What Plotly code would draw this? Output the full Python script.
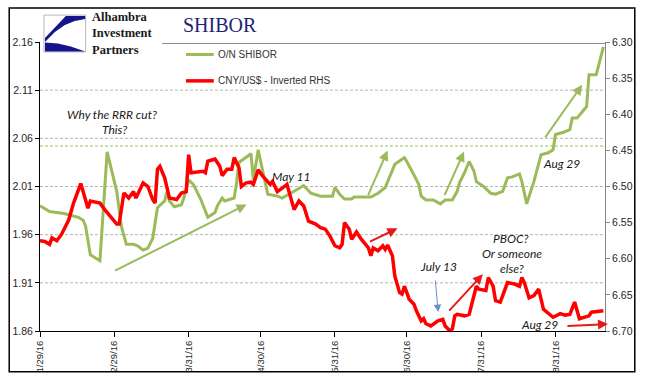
import plotly.graph_objects as go

# ---------------- data ----------------
shibor_dates = ["2016-01-29","2016-02-02","2016-02-05","2016-02-08","2016-02-14","2016-02-16","2016-02-17","2016-02-19","2016-02-23","2016-02-26",
                "2016-03-01","2016-03-03","2016-03-05","2016-03-08","2016-03-10","2016-03-12","2016-03-14","2016-03-16","2016-03-18","2016-03-21",
                "2016-03-22","2016-03-23","2016-03-25","2016-03-28","2016-03-29","2016-03-31","2016-04-02","2016-04-05","2016-04-08","2016-04-11",
                "2016-04-12","2016-04-14","2016-04-15","2016-04-19","2016-04-20","2016-04-21","2016-04-26","2016-04-27","2016-04-29","2016-05-01",
                "2016-05-03","2016-05-07","2016-05-09","2016-05-14","2016-05-18","2016-05-21","2016-05-25","2016-05-30","2016-05-31","2016-06-02",
                "2016-06-04","2016-06-07","2016-06-08","2016-06-15","2016-06-18","2016-06-21","2016-06-23","2016-06-25","2016-06-29","2016-06-30",
                "2016-07-03","2016-07-05","2016-07-06","2016-07-08","2016-07-11","2016-07-14","2016-07-16","2016-07-19","2016-07-21","2016-07-22",
                "2016-07-24","2016-07-26","2016-07-28","2016-07-29","2016-08-01","2016-08-04","2016-08-06","2016-08-09","2016-08-11","2016-08-13",
                "2016-08-16","2016-08-17","2016-08-19","2016-08-22","2016-08-25","2016-08-28","2016-08-30","2016-08-31","2016-09-03","2016-09-06",
                "2016-09-07","2016-09-09","2016-09-13","2016-09-14","2016-09-17","2016-09-20"]
shibor_values = [1.990,1.984,1.983,1.982,1.978,1.975,1.969,1.939,1.933,2.046,
                 2.005,1.968,1.950,1.950,1.948,1.944,1.946,1.956,1.988,1.995,
                 2.005,1.995,1.989,1.991,1.998,2.017,2.012,1.997,1.978,1.983,
                 1.990,1.998,1.995,1.998,2.014,2.035,2.044,2.017,2.048,2.024,
                 2.002,2.000,1.998,2.005,2.011,2.003,2.000,2.000,2.009,2.002,
                 1.997,1.997,1.999,1.999,2.003,2.009,2.021,2.033,2.040,2.036,
                 2.022,2.012,2.000,1.996,1.996,1.992,1.996,1.996,2.005,2.014,
                 2.024,2.036,2.026,2.015,2.010,2.003,2.002,2.005,2.019,2.020,
                 2.023,2.015,1.992,2.015,2.043,2.045,2.048,2.064,2.066,2.069,
                 2.081,2.081,2.093,2.126,2.126,2.155]

cny_dates = ["2016-01-29","2016-01-31","2016-02-02","2016-02-03","2016-02-05","2016-02-07","2016-02-10","2016-02-12","2016-02-15","2016-02-17",
             "2016-02-18","2016-02-19","2016-02-21","2016-02-23","2016-02-25","2016-02-27","2016-03-01","2016-03-02","2016-03-04","2016-03-06",
             "2016-03-08","2016-03-09","2016-03-12","2016-03-14","2016-03-16","2016-03-17","2016-03-18","2016-03-19","2016-03-21","2016-03-23",
             "2016-03-26","2016-03-28","2016-03-30","2016-03-31","2016-04-01","2016-04-06","2016-04-07","2016-04-08","2016-04-11","2016-04-13",
             "2016-04-14","2016-04-16","2016-04-18","2016-04-19","2016-04-21","2016-04-22","2016-04-24","2016-04-26","2016-04-27","2016-04-29",
             "2016-05-01","2016-05-04","2016-05-05","2016-05-07","2016-05-09","2016-05-10","2016-05-11","2016-05-13","2016-05-14","2016-05-16",
             "2016-05-18","2016-05-20","2016-05-23","2016-05-25","2016-05-27","2016-05-29","2016-05-31","2016-06-02","2016-06-03","2016-06-04",
             "2016-06-06","2016-06-07","2016-06-09","2016-06-11","2016-06-14","2016-06-15","2016-06-16","2016-06-18","2016-06-20","2016-06-21",
             "2016-06-22","2016-06-24","2016-06-25","2016-06-27","2016-06-28","2016-06-29","2016-07-01","2016-07-03","2016-07-04","2016-07-06",
             "2016-07-07","2016-07-08","2016-07-10","2016-07-13","2016-07-15","2016-07-16","2016-07-18","2016-07-19","2016-07-20","2016-07-21",
             "2016-07-24","2016-07-26","2016-07-27","2016-07-29","2016-07-30","2016-08-02","2016-08-03","2016-08-05","2016-08-06","2016-08-08",
             "2016-08-11","2016-08-14","2016-08-16","2016-08-17","2016-08-18","2016-08-20","2016-08-22","2016-08-24","2016-08-26","2016-08-30",
             "2016-09-02","2016-09-04","2016-09-06","2016-09-08","2016-09-10","2016-09-14","2016-09-15","2016-09-20"]
cny_values = [6.575,6.576,6.580,6.571,6.575,6.566,6.546,6.523,6.496,6.520,
              6.530,6.520,6.522,6.523,6.532,6.540,6.552,6.552,6.509,6.516,
              6.507,6.516,6.495,6.500,6.518,6.523,6.476,6.472,6.488,6.516,
              6.518,6.509,6.507,6.456,6.481,6.479,6.481,6.465,6.462,6.472,
              6.485,6.476,6.476,6.460,6.474,6.500,6.495,6.494,6.497,6.477,
              6.486,6.497,6.493,6.507,6.503,6.500,6.497,6.518,6.532,6.520,
              6.527,6.548,6.552,6.557,6.559,6.569,6.582,6.585,6.580,6.550,
              6.559,6.573,6.563,6.573,6.585,6.596,6.585,6.589,6.582,6.587,
              6.581,6.596,6.624,6.647,6.649,6.638,6.656,6.663,6.672,6.686,
              6.683,6.690,6.693,6.686,6.684,6.693,6.700,6.697,6.679,6.677,
              6.679,6.677,6.665,6.638,6.642,6.644,6.626,6.638,6.658,6.660,
              6.633,6.635,6.638,6.626,6.633,6.654,6.651,6.642,6.670,6.681,
              6.676,6.678,6.677,6.660,6.683,6.679,6.674,6.672]

x_tick_dates = ["2016-01-29","2016-02-29","2016-03-31","2016-04-30","2016-05-31","2016-06-30","2016-07-31","2016-08-31"]
x_tick_labels = ["1/29/16","2/29/16","3/31/16","4/30/16","5/31/16","6/30/16","7/31/16","8/31/16"]
left_ticks = [1.86, 1.91, 1.96, 2.01, 2.06, 2.11, 2.16]
right_ticks = [6.30, 6.35, 6.40, 6.45, 6.50, 6.55, 6.60, 6.65, 6.70]
reference_level = 2.052

GREEN = "#9BBB59"
RED = "#FF0000"
NAVY = "#1F1F75"

# ---------------- layout helpers (pixel -> paper) ----------------
W, H = 645, 385
L, R, T, B = 37, 606, 42, 332
def px(x): return (x - L) / (R - L)
def py(y): return (B - y) / (B - T)
def path(pts, close=True):
    s = "M " + " L ".join(f"{px(x):.5f},{py(y):.5f}" for x, y in pts)
    return s + (" Z" if close else "")

fig = go.Figure()
fig.add_trace(go.Scatter(x=shibor_dates, y=shibor_values, mode="lines", name="O/N SHIBOR",
                         line=dict(color=GREEN, width=3), yaxis="y", showlegend=False))
fig.add_trace(go.Scatter(x=cny_dates, y=cny_values, mode="lines", name="CNY/US$ - Inverted RHS",
                         line=dict(color=RED, width=3.5), yaxis="y2", showlegend=False))

tickfont = dict(family="Liberation Sans", size=10.5, color="#262626")

fig.update_layout(
    width=W, height=H,
    margin=dict(l=L, r=W - R, t=T, b=H - B, pad=0),
    paper_bgcolor="white", plot_bgcolor="white",
    xaxis=dict(type="date", range=["2016-01-29", "2016-09-20 16:00"],
               tickvals=x_tick_dates, ticktext=x_tick_labels, tickangle=-90,
               ticks="outside", ticklen=5, tickcolor="black", showline=True,
               linecolor="black", linewidth=1, showgrid=False, zeroline=False,
               tickfont=dict(family="Liberation Sans", size=9.5, color="#262626")),
    yaxis=dict(range=[1.86, 2.16], tickvals=left_ticks, tickformat=".2f",
               ticks="outside", ticklen=4, tickcolor="black", showline=True,
               linecolor="black", linewidth=1, showgrid=False, zeroline=False,
               tickfont=tickfont),
    yaxis2=dict(range=[6.70, 6.30], tickvals=right_ticks, tickformat=".2f",
                overlaying="y", side="right", ticks="outside", ticklen=4,
                tickcolor="#868686", showline=True, linecolor="#868686",
                linewidth=1, showgrid=False, zeroline=False, tickfont=tickfont),
)

shapes = []
# dashed grid lines
for v in left_ticks[1:-1]:
    shapes.append(dict(type="line", xref="paper", x0=0, x1=1, yref="y", y0=v, y1=v,
                       line=dict(color="#b4b4b4", width=1, dash="3px,2px"), layer="below"))
# green dashed reference line
shapes.append(dict(type="line", xref="paper", x0=0, x1=1, yref="y", y0=reference_level, y1=reference_level,
                   line=dict(color=GREEN, width=1, dash="3px,2px"), layer="below"))
# outer border
shapes.append(dict(type="rect", xref="paper", yref="paper", x0=px(6), x1=px(636), y0=py(373), y1=py(8),
                   line=dict(color="black", width=1.5)))
# title underline
shapes.append(dict(type="line", xref="paper", yref="paper", x0=px(160), x1=px(606), y0=py(43.5), y1=py(43.5),
                   line=dict(color="#8c8c8c", width=1)))
# logo box
shapes.append(dict(type="rect", xref="paper", yref="paper", x0=px(41), x1=px(83), y0=py(52), y1=py(15),
                   line=dict(color="#b8b8b8", width=1), fillcolor="white"))
LOGO_BLUE = "#14148C"
shapes.append(dict(type="path", xref="paper", yref="paper",
                   path=path([(63, 16), (82.5, 16), (82.5, 19), (72, 21), (62, 25), (52, 32), (42, 42), (42, 38)]),
                   fillcolor=LOGO_BLUE, line=dict(width=0)))
shapes.append(dict(type="path", xref="paper", yref="paper",
                   path=path([(42, 42.5), (55, 43.5), (68, 46.5), (82.5, 51.5), (42, 51.5)]),
                   fillcolor=LOGO_BLUE, line=dict(width=0)))
# legend samples
shapes.append(dict(type="line", xref="paper", yref="paper", x0=px(184), x1=px(212), y0=py(54.5), y1=py(54.5),
                   line=dict(color=GREEN, width=3)))
shapes.append(dict(type="line", xref="paper", yref="paper", x0=px(184), x1=px(212), y0=py(81), y1=py(81),
                   line=dict(color=RED, width=3.5)))
fig.update_layout(shapes=shapes)

ann = []
def text(x, y, s, size=12, family="Lato", color="#1a1a1a", xanchor="center", italic=True, align="center"):
    ann.append(dict(xref="paper", yref="paper", x=px(x), y=py(y), text=(f"<i>{s}</i>" if italic else s),
                    showarrow=False, xanchor=xanchor, yanchor="middle", align=align,
                    font=dict(family=family, size=size, color=color)))

def arrow(tx, ty, hx, hy, color, width=2, head=2, size=1):
    ann.append(dict(xref="paper", yref="paper", x=px(hx), y=py(hy), ax=tx - hx, ay=ty - hy,
                    axref="pixel", ayref="pixel", text="", showarrow=True, arrowhead=head,
                    arrowsize=size, arrowwidth=width, arrowcolor=color, standoff=0, startstandoff=0))

# title / logo text
text(218, 25, "SHIBOR", size=20, family="Liberation Serif", color=NAVY, italic=False)
text(87, 33, "<b>Alhambra<br>Investment<br>Partners</b>", size=12.5, family="Liberation Serif", color="#1a1a1a",
     xanchor="left", italic=False, align="left")
# legend text
text(214, 54.5, "O/N SHIBOR", size=10, family="Liberation Sans", color="#333", xanchor="left", italic=False)
text(214, 81, "CNY/US$ - Inverted RHS", size=10, family="Liberation Sans", color="#333", xanchor="left", italic=False)
# commentary
text(110, 115, "Why the RRR cut?")
text(112, 130, "This?")
text(290, 177, "May 11")
text(438, 267, "July 13")
text(511, 239, "PBOC?")
text(512, 254, "Or someone")
text(512, 269, "else?")
text(562, 164, "Aug 29")
text(540, 325, "Aug 29")

# arrows
arrow(112, 272, 245, 205, GREEN)
arrow(367, 197, 387, 151, GREEN)
arrow(444, 197, 464, 152, GREEN)
arrow(545, 139, 583, 85, GREEN)
arrow(368, 243, 397, 229, "#E8191B")
arrow(448, 313, 483, 275, "#E8191B")
arrow(567, 327, 609, 325, "#E8191B")
arrow(435, 280, 438, 313, "#6A8FC0", width=1, head=2, size=1.5)

fig.update_layout(annotations=ann)
fig.write_html("out.html", config={"displayModeBar": False},
               post_script="document.body.style.margin='0px';")
